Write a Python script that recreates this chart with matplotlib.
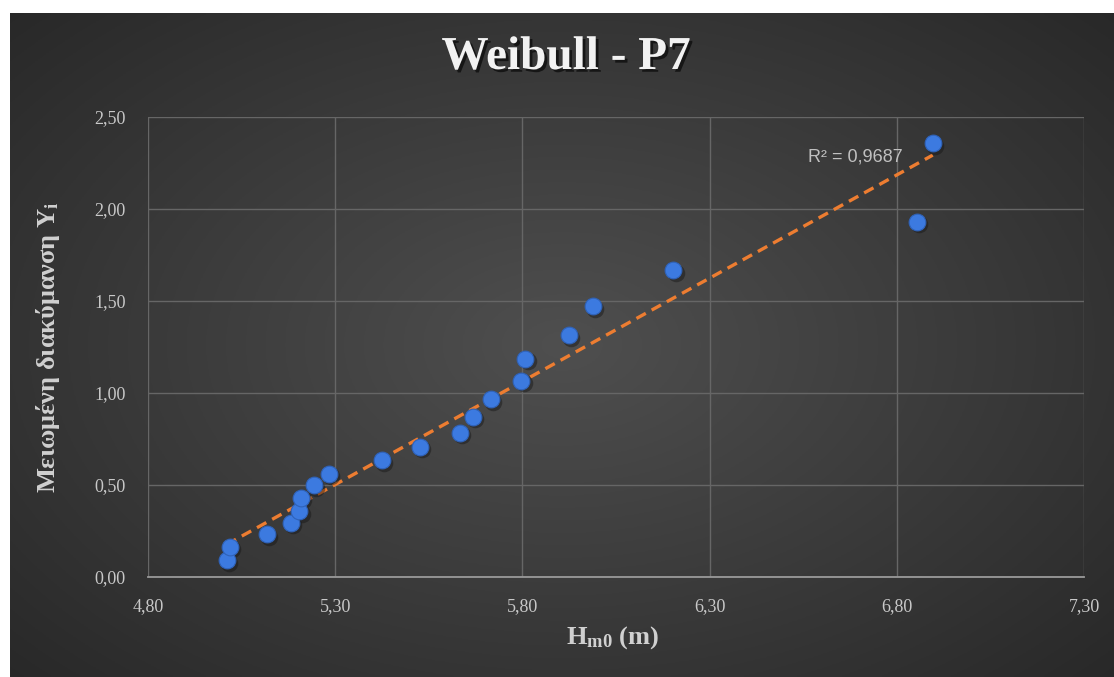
import numpy as np
import matplotlib
matplotlib.use("Agg")
import matplotlib.pyplot as plt
import matplotlib.patheffects as pe
from matplotlib.ticker import FuncFormatter

plt.rcParams['mathtext.fontset'] = 'custom'
plt.rcParams['mathtext.rm'] = 'Liberation Serif'
plt.rcParams['mathtext.bf'] = 'Liberation Serif:bold'
plt.rcParams['mathtext.it'] = 'Liberation Serif:italic'

# data
hm0 = [5.010, 5.019, 5.117, 5.182, 5.204, 5.209, 5.244, 5.284, 5.424, 5.526,
       5.634, 5.668, 5.716, 5.797, 5.808, 5.925, 5.988, 6.203, 6.853, 6.896]
yi = [0.090, 0.165, 0.232, 0.292, 0.356, 0.430, 0.498, 0.560, 0.634, 0.709,
      0.785, 0.870, 0.965, 1.065, 1.184, 1.313, 1.471, 1.666, 1.930, 2.356]
xticks = [4.80, 5.30, 5.80, 6.30, 6.80, 7.30]
yticks = [0.00, 0.50, 1.00, 1.50, 2.00, 2.50]
r2_text = "R² = 0,9687"
title = "Weibull - P7"
xlabel = r"H$_{\mathbf{m0}}$ (m)"
ylabel = r"Μειωμένη διακύμανση Y$_{\mathbf{i}}$"

W, H = 1114, 677
fig = plt.figure(figsize=(W / 100, H / 100), dpi=100, facecolor='white')

# dark radial gradient background (chart area starts after small white margin)
bg = fig.add_axes([10 / W, 0, 1 - 10 / W, 1 - 13 / H])
gx, gy = np.meshgrid(np.linspace(-1, 1, 400), np.linspace(-1, 1, 250))
r = np.sqrt((gx * 0.95) ** 2 + (gy * 0.9) ** 2)
shade = 0.31 - 0.15 * np.clip(r / 1.3, 0, 1)
bg.imshow(np.dstack([shade, shade, shade]), aspect='auto', extent=[0, 1, 0, 1])
bg.axis('off')

ax = fig.add_axes([148 / W, 1 - 577 / H, (1084 - 148) / W, (577 - 117) / H])
ax.patch.set_alpha(0)

# trendline (linear fit, like Excel)
k, b = np.polyfit(hm0, yi, 1)
xs = np.array([min(hm0), max(hm0)])
ax.plot(xs, k * xs + b, color='#ED7D31', lw=2.4, ls=(0, (3.2, 2.0)), zorder=3)

# point shadows then points
ax.scatter(np.array(hm0) + 0.006, np.array(yi) - 0.012, s=160, color='#151515',
           alpha=0.45, lw=0, zorder=4)
ax.scatter(hm0, yi, s=145, color='#3c7ae0', edgecolor='#2f62b8', lw=0.8, zorder=5)

ax.set_xlim(4.80, 7.30)
ax.set_ylim(0, 2.50)
ax.set_xticks(xticks)
ax.set_yticks(yticks)
fmt = FuncFormatter(lambda v, p: f"{v:.2f}".replace('.', ','))
ax.xaxis.set_major_formatter(fmt)
ax.yaxis.set_major_formatter(fmt)
ax.grid(True, color='#666666', lw=1.0)
ax.set_axisbelow(True)
for s in ['top', 'right', 'left']:
    ax.spines[s].set_visible(False)
ax.spines['bottom'].set_color('#9a9a9a')
ax.spines['bottom'].set_linewidth(1.3)
ax.tick_params(length=0, colors='#c8c8c8', labelsize=13)
ax.tick_params(axis='x', pad=15)
ax.tick_params(axis='y', pad=16)
for lab in ax.get_xticklabels() + ax.get_yticklabels():
    lab.set_family('Liberation Serif')

ax.text(6.563, 2.283, r2_text, fontsize=13, color='#c0c0c0', family='Liberation Sans',
        va='center')

fig.text(566 / W, 1 - 58 / H, title, ha='center', va='center', fontsize=34,
         fontweight='bold', family='Liberation Serif', color='#f2f2f2',
         path_effects=[pe.SimplePatchShadow(offset=(2, -2), shadow_rgbFace='black', alpha=0.6),
                       pe.Normal()])
fig.text(612 / W, 1 - 638 / H, xlabel, ha='center', va='center', fontsize=19,
         fontweight='bold', family='Liberation Serif', color='#d0d0d0')
fig.text(48 / W, 1 - 347 / H, ylabel, ha='center', va='center', rotation=90,
         fontsize=19, fontweight='bold', family='Liberation Serif', color='#d0d0d0')

fig.savefig('out.png', dpi=100, facecolor='white')
